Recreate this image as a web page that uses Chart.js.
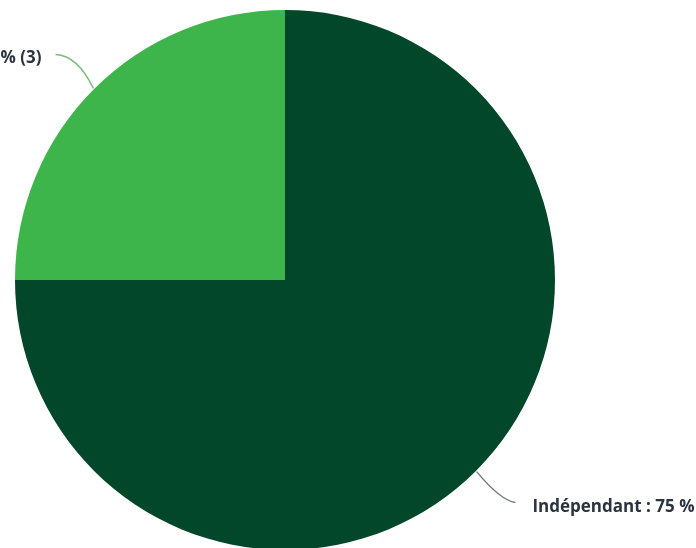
<!DOCTYPE html>
<html>
<head>
<meta charset="utf-8">
<script src="https://cdn.jsdelivr.net/npm/chart.js@4.4.1/dist/chart.umd.min.js"></script>
<style>
  html, body { margin: 0; padding: 0; background: #fff; overflow: hidden; }
  #wrap { width: 696px; height: 560px; position: relative; }
</style>
</head>
<body>
<div id="wrap"><canvas id="pie"></canvas></div>
<script>
// Données du graphique
const categories = ['Indépendant', 'Salarié'];
const counts = [9, 3];
const sliceColors = ['#02472a', '#3db54a'];
const lineColors = ['rgba(70, 80, 85, 0.75)', 'rgba(90, 170, 95, 0.8)'];

const total = counts.reduce((a, b) => a + b, 0);

// Étiquettes avec traits de rappel
const leaderLabels = {
    id: 'leaderLabels',
    afterDatasetsDraw(chart) {
        const ctx = chart.ctx;
        const meta = chart.getDatasetMeta(0);
        meta.data.forEach((arc, i) => {
            const mid = (arc.startAngle + arc.endAngle) / 2;
            const cos = Math.cos(mid), sin = Math.sin(mid);
            const r = arc.outerRadius;
            const x1 = arc.x + cos * (r + 1);
            const y1 = arc.y + sin * (r + 1);
            const x2 = arc.x + cos * (r + 46);
            const y2 = arc.y + sin * (r + 46);
            const right = cos >= 0;
            ctx.save();
            ctx.strokeStyle = lineColors[i];
            ctx.lineWidth = 1.5;
            ctx.beginPath();
            ctx.moveTo(x1, y1);
            if (right) {
                ctx.quadraticCurveTo(x2 - 8, y2 - 3, x2 + 7, y2 - 1);
            } else {
                ctx.quadraticCurveTo(x2 + 16, y2 - 1, x2 - 6, y2 - 2);
            }
            ctx.stroke();

            const pct = Math.round(counts[i] / total * 100);
            const text = categories[i] + ' : ' + pct + ' % (' + counts[i] + ')';
            ctx.font = 'bold 17px "Open Sans", sans-serif';
            ctx.fillStyle = '#2a3340';
            ctx.textBaseline = 'middle';
            if (right) {
                ctx.textAlign = 'left';
                ctx.fillText(text, x2 + 24, y2 + 4);
            } else {
                ctx.textAlign = 'right';
                ctx.fillText(text, x2 - 20, y2 + 2);
            }
            ctx.restore();
        });
    }
};

new Chart(document.getElementById('pie'), {
    type: 'pie',
    data: {
        labels: categories,
        datasets: [{
            data: counts,
            backgroundColor: sliceColors,
            borderWidth: 0
        }]
    },
    options: {
        responsive: true,
        maintainAspectRatio: false,
        animation: false,
        layout: { padding: { left: 15, right: 141, top: 10, bottom: 10 } },
        plugins: {
            legend: { display: false },
            tooltip: { enabled: false }
        }
    },
    plugins: [leaderLabels]
});
</script>
</body>
</html>
